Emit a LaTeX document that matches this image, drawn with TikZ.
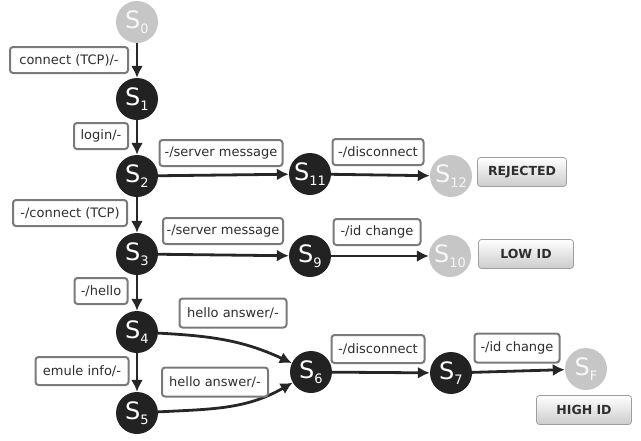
\documentclass[tikz,border=0pt]{standalone}
\usepackage{fontspec}
\setmainfont{DejaVu Sans}
\usetikzlibrary{arrows.meta}
\definecolor{nodedark}{HTML}{222222}
\definecolor{nodelight}{HTML}{C6C6C6}
\definecolor{edgecol}{HTML}{262626}
\definecolor{lblborder}{HTML}{7A7A7A}
\definecolor{btntext}{HTML}{2E2E2E}
\newcommand\St[1]{{\fontsize{24}{24}\selectfont S}\raisebox{-5pt}{\fontsize{13}{13}\selectfont #1}}
\begin{document}
\begin{tikzpicture}[x=1pt,y=-1pt,
  state/.style={circle, minimum size=42pt, inner sep=0pt, text=white, fill=nodedark},
  statelight/.style={state, fill=nodelight, text=white!94!gray},
  lbl/.style={draw=lblborder, line width=2pt, rounded corners=3pt, fill=white, inner sep=0pt,
    font=\fontsize{13}{13}\selectfont, text=black!82, minimum height=26pt},
  btn/.style={draw=gray!75, line width=0.8pt, rounded corners=3pt, top color=white, bottom color=gray!40,
    font=\bfseries\fontsize{12.5}{12.5}\selectfont, text=btntext, minimum height=29pt, inner sep=0pt},
  edge/.style={draw=edgecol, line width=2.8pt, -{Latex[length=12pt,width=12pt]}}
]
\useasboundingbox (0,0) rectangle (641,440);
% states
\node[statelight] (s0) at (137,22) {\St{0}};
\node[state] (s1) at (137,99) {\St{1}};
\node[state] (s2) at (137,176) {\St{2}};
\node[state] (s3) at (137,254) {\St{3}};
\node[state] (s4) at (137,332) {\St{4}};
\node[state] (s5) at (137,413) {\St{5}};
\node[state] (s11) at (310,174) {\St{11}};
\node[statelight] (s12) at (451,176) {\St{12}};
\node[state] (s9) at (310,256) {\St{9}};
\node[statelight] (s10) at (450,256) {\St{10}};
\node[state] (s6) at (311,372) {\St{6}};
\node[state] (s7) at (451,373) {\St{7}};
\node[statelight] (sf) at (586,369) {\St{F}};
% result buttons
\node[btn, minimum width=89pt] (rej) at (522,172) {REJECTED};
\node[btn, minimum width=95pt] (low) at (526,254) {LOW ID};
\node[btn, minimum width=95pt] (high) at (584,410) {HIGH ID};
% edges
\draw[edge] (s0) -- (s1);
\draw[edge] (s1) -- (s2);
\draw[edge] (s2) -- (s3);
\draw[edge] (s3) -- (s4);
\draw[edge] (s4) -- (s5);
\draw[edge] (s2) -- (s11);
\draw[edge] (s11) -- (s12);
\draw[edge] (s3) -- (s9);
\draw[edge] (s9) -- (s10);
\draw[edge] (s4) to[out=-3, in=155] (s6);
\draw[edge] (s5) to[out=3, in=-150] (s6);
\draw[edge] (s6) -- (s7);
\draw[edge] (s7) -- (sf);
% labels
\node[lbl, minimum width=118pt] (l01) at (69,60) {connect (TCP)/-};
\node[lbl, minimum width=54pt] (l12) at (101,136) {login/-};
\node[lbl, minimum width=123pt] (l211) at (221,153) {-/server message};
\node[lbl, minimum width=114pt] (l23) at (70,213) {-/connect (TCP)};
\node[lbl, minimum width=120pt] (l39) at (223,231) {-/server message};
\node[lbl, minimum width=91pt] (l1112) at (378,152) {-/disconnect};
\node[lbl, minimum width=87pt] (l910) at (377,232) {-/id change};
\node[lbl, minimum width=53pt] (l34) at (101,291) {-/hello};
\node[lbl, minimum width=107pt, minimum height=29pt] (l46) at (233,313) {hello answer/-};
\node[lbl, minimum width=93pt, minimum height=28pt] (l45) at (82,371) {emule info/-};
\node[lbl, minimum width=106pt, minimum height=29pt] (l56) at (215,382) {hello answer/-};
\node[lbl, minimum width=93pt, minimum height=28pt] (l67) at (378,349) {-/disconnect};
\node[lbl, minimum width=85pt, minimum height=29pt] (l7f) at (517,348) {-/id change};
\end{tikzpicture}
\end{document}
